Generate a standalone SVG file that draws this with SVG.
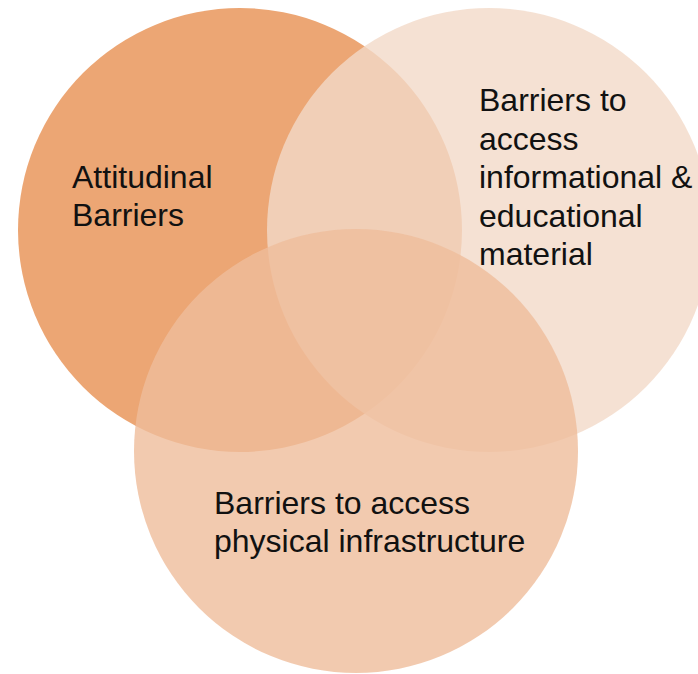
<svg xmlns="http://www.w3.org/2000/svg" width="698" height="674" viewBox="0 0 698 674">
  <style>
    .lbl { font-family: "Liberation Sans", Arial, sans-serif; font-size: 32px; fill: #111111; }
  </style>
  <rect width="698" height="674" fill="#ffffff"/>
  <g id="attitudinal">
    <circle cx="240" cy="230" r="222" fill="#ECA674"/>
  </g>
  <g id="informational">
    <circle cx="489" cy="230" r="222" fill="#F2DAC8" fill-opacity="0.8"/>
  </g>
  <g id="physical">
    <circle cx="356" cy="451" r="222" fill="#EFBD9B" fill-opacity="0.8"/>
  </g>
  <g id="connectors"></g>
  <g id="labels">
    <text class="lbl" x="72" y="188">Attitudinal</text>
    <text class="lbl" x="72" y="226">Barriers</text>
    <text class="lbl" x="479" y="111">Barriers to</text>
    <text class="lbl" x="479" y="149.5">access</text>
    <text class="lbl" x="479" y="188">informational &amp;</text>
    <text class="lbl" x="479" y="226.5">educational</text>
    <text class="lbl" x="479" y="265">material</text>
    <text class="lbl" x="214" y="514">Barriers to access</text>
    <text class="lbl" x="214" y="552">physical infrastructure</text>
  </g>
</svg>
